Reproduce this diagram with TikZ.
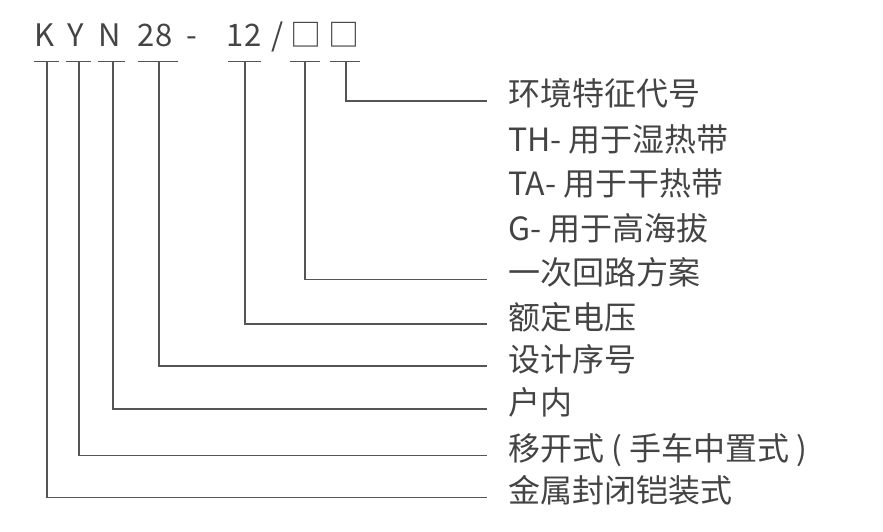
\documentclass[tikz,border=0pt]{standalone}
\usepackage{fontspec}
\setmainfont{Noto Sans CJK SC}
\definecolor{txtgray}{RGB}{68,68,68}
\definecolor{linegray}{RGB}{85,85,85}
\tikzset{
  code/.style={font=\fontsize{31}{31}\selectfont, text=txtgray, inner sep=0pt, anchor=base},
  desc/.style={font=\fontsize{32}{32}\selectfont, text=txtgray, inner sep=0pt, anchor=west,
               text height=1em, text depth=0em},
  uline/.style={draw=linegray, line width=1.4pt},
  conn/.style={draw=linegray, line width=1.3pt},
}
\begin{document}
\begin{tikzpicture}[x=1pt,y=-1pt]
\useasboundingbox (0,0) rectangle (883,532);
% top code
\node[code] (cK) at (45,47) {K};
\node[code] (cY) at (76,47) {Y};
\node[code] (cN) at (110,47) {N};
\node[code] (c28) at (155,47) {28};
\node[code] (cdash) at (192,47) {-};
\node[code] (c12) at (244,47) {12};
\node[code] (cslash) at (278,47) {/};
\node[code] (cb1) at (305.5,47) {□};
\node[code] (cb2) at (344,47) {□};
% underlines
\draw[uline] (34,61.5) -- (59,61.5);
\draw[uline] (66,61.5) -- (91,61.5);
\draw[uline] (98,61.5) -- (125,61.5);
\draw[uline] (138,61.5) -- (178,61.5);
\draw[uline] (228,61.5) -- (261,61.5);
\draw[uline] (290,61.5) -- (320,61.5);
\draw[uline] (330,61.5) -- (360,61.5);
\coordinate (uK) at (47,61.5);
\coordinate (uY) at (79,61.5);
\coordinate (uN) at (113,61.5);
\coordinate (u28) at (159,61.5);
\coordinate (u12) at (245,61.5);
\coordinate (ub1) at (305,61.5);
\coordinate (ub2) at (346,61.5);
% descriptions
\node[desc] (lb2) at (508,101) {环境特征代号};
\node[desc] (lTH) at (508,146) {TH- 用于湿热带};
\node[desc] (lTA) at (508,190) {TA- 用于干热带};
\node[desc] (lG) at (508,235) {G- 用于高海拔};
\node[desc] (lb1) at (508,279.5) {一次回路方案};
\node[desc] (l12) at (508,324) {额定电压};
\node[desc] (l28) at (508,366) {设计序号};
\node[desc] (lN) at (508,409) {户内};
\node[desc] (lY) at (508,455.5) {移开式 ( 手车中置式 )};
\node[desc] (lK) at (508,497.5) {金属封闭铠装式};
% connectors
\draw[conn] (ub2) |- ([xshift=-21pt]lb2.west);
\draw[conn] (ub1) |- ([xshift=-21pt]lb1.west);
\draw[conn] (u12) |- ([xshift=-21pt]l12.west);
\draw[conn] (u28) |- ([xshift=-21pt]l28.west);
\draw[conn] (uN) |- ([xshift=-21pt]lN.west);
\draw[conn] (uY) |- ([xshift=-21pt]lY.west);
\draw[conn] (uK) |- ([xshift=-21pt]lK.west);
\end{tikzpicture}
\end{document}
